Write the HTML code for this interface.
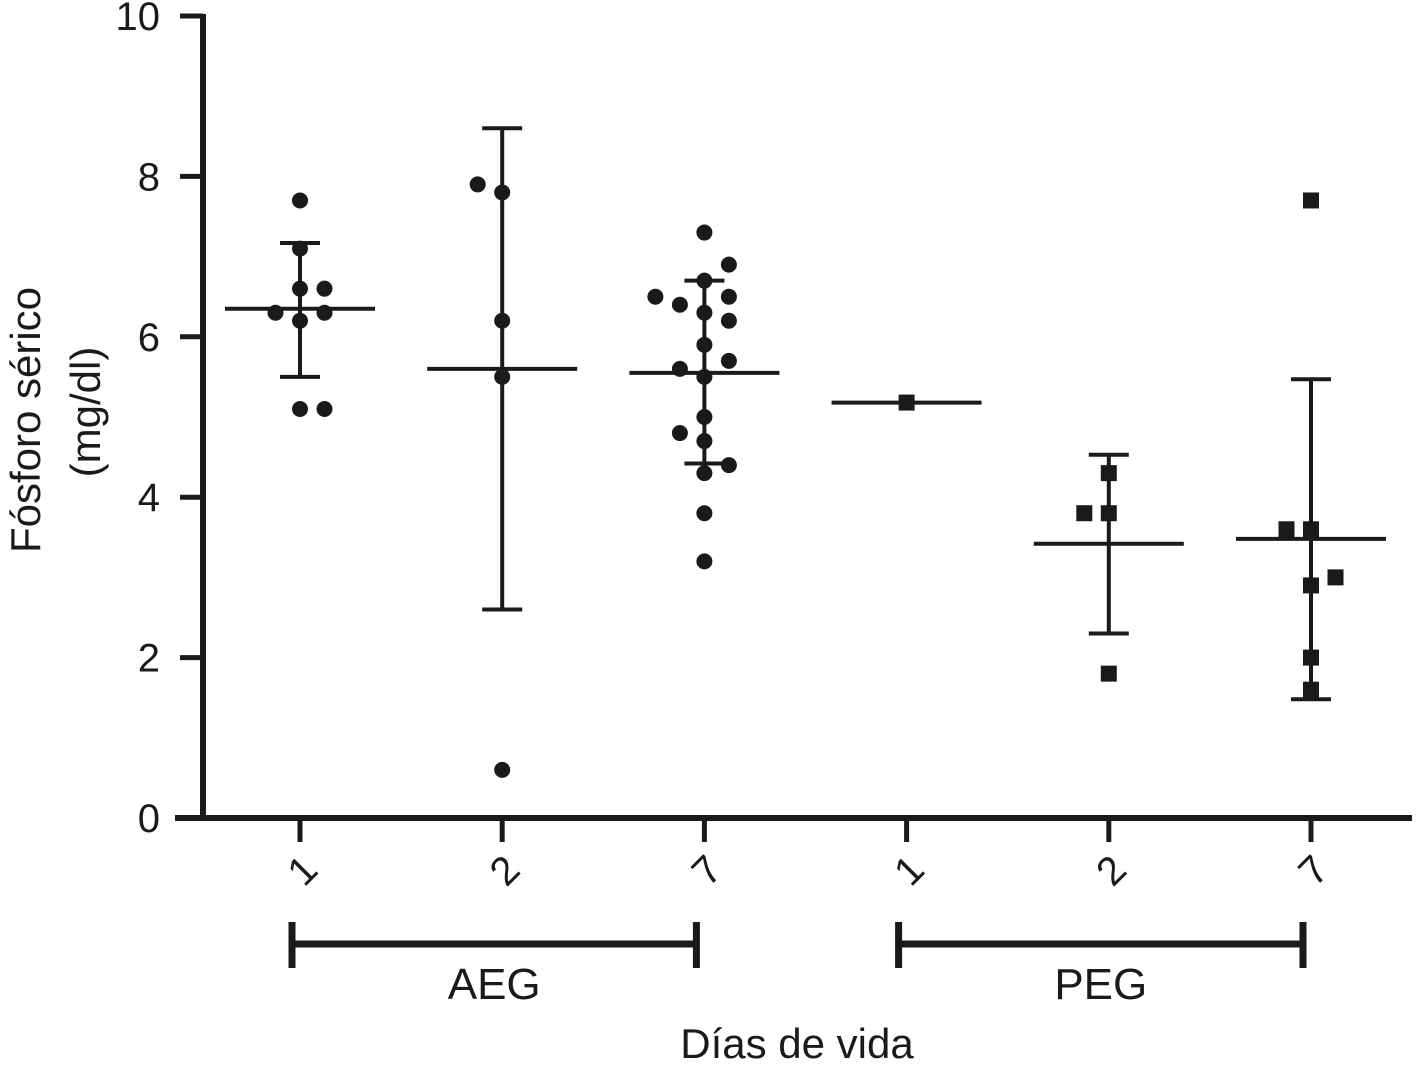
<!DOCTYPE html>
<html><head><meta charset="utf-8"><style>
body{margin:0;background:#fff}
svg{display:block;font-family:"Liberation Sans",sans-serif}
</style></head><body>
<svg id="chart" width="1417" height="1069" viewBox="0 0 1417 1069">
<g id="axes"></g>
<g id="marks"></g>
<text transform="translate(40,420) rotate(-90)" text-anchor="middle" font-size="42" fill="#1a1a1a">Fósforo sérico</text>
<text transform="translate(100,412) rotate(-90)" text-anchor="middle" font-size="42" fill="#1a1a1a">(mg/dl)</text>
<text x="797" y="1058" text-anchor="middle" font-size="42" fill="#1a1a1a">Días de vida</text>
</svg>
<script>
const categories=["1","2","7","1","2","7"];
const groups=["AEG","PEG"];
const shapes=["circle","circle","circle","square","square","square"];
const pointValues=[
 [7.7,7.1,6.6,6.6,6.3,6.3,6.2,5.1,5.1],
 [7.9,7.8,6.2,5.5,0.6],
 [7.3,6.9,6.7,6.5,6.4,6.5,6.3,6.2,5.9,5.7,5.6,5.5,5.0,4.8,4.7,4.4,4.3,3.8,3.2],
 [5.18],
 [4.3,3.8,3.8,1.8],
 [7.7,3.6,3.6,3.0,2.9,2.0,1.6]];
const pointOffsets=[
 [0,0,0,1,-1,1,0,0,1],
 [-1,0,0,0,0],
 [0,1,0,-2,-1,1,0,1,0,1,-1,0,0,-1,0,1,0,0,0],
 [0],
 [0,-1,0,0],
 [0,-1,0,1,0,0,0]];
const means=[6.35,5.6,5.55,5.18,3.42,3.48];
const upper=[7.17,8.6,6.7,null,4.53,5.47];
const lower=[5.5,2.6,4.42,null,2.3,1.48];
const yTicks=[0,2,4,6,8,10];

const NS="http://www.w3.org/2000/svg";
const y=v=>818-v*80.2;
const x=i=>300+i*202.2;
const C="#1a1a1a";
function mk(par,tag,a){const e=document.createElementNS(NS,tag);for(const k in a)e.setAttribute(k,a[k]);par.appendChild(e);return e;}
const ax=document.getElementById('axes'),mg=document.getElementById('marks');
let e=mk(ax,'line',{x1:203,y1:14,x2:203,y2:820,stroke:C,'stroke-width':6});

e=mk(ax,'line',{x1:175,y1:818,x2:1412,y2:818,stroke:C,'stroke-width':6});

yTicks.forEach(t=>{
 let l=mk(ax,'line',{x1:180,y1:y(t),x2:203,y2:y(t),stroke:C,'stroke-width':5});
 
 let tx=mk(ax,'text',{x:160,y:y(t)+14,'text-anchor':'end','font-size':40,fill:C});tx.textContent=t;
 
});
categories.forEach((c,i)=>{
 let l=mk(ax,'line',{x1:x(i),y1:818,x2:x(i),y2:842,stroke:C,'stroke-width':5});
 
 let tx=mk(ax,'text',{transform:`translate(${x(i)+12},${880}) rotate(-45)`,'text-anchor':'middle','font-size':40,fill:C});tx.textContent=c;
 
});
groups.forEach((g,k)=>{
 const x1=x(k*3)-8,x2=x(k*3+2)-8;
 let gg=mk(ax,'g',{});
 
 mk(gg,'line',{x1:x1,y1:944,x2:x2,y2:944,stroke:C,'stroke-width':7});
 mk(gg,'line',{x1:x1,y1:922,x2:x1,y2:968,stroke:C,'stroke-width':7});
 mk(gg,'line',{x1:x2,y1:922,x2:x2,y2:968,stroke:C,'stroke-width':7});
 let tx=mk(gg,'text',{x:(x1+x2)/2,y:999,'text-anchor':'middle','font-size':44,fill:C});tx.textContent=g;
});
categories.forEach((c,i)=>{
 const cx=x(i);
 let m=mk(mg,'line',{x1:cx-75,y1:y(means[i]),x2:cx+75,y2:y(means[i]),stroke:C,'stroke-width':4});
 
 if(upper[i]!=null){
  let b=mk(mg,'g',{stroke:C,'stroke-width':4});
  
  mk(b,'line',{x1:cx,y1:y(upper[i]),x2:cx,y2:y(lower[i])});
  mk(b,'line',{x1:cx-20,y1:y(upper[i]),x2:cx+20,y2:y(upper[i])});
  mk(b,'line',{x1:cx-20,y1:y(lower[i]),x2:cx+20,y2:y(lower[i])});
 }
 pointValues[i].forEach((v,j)=>{
  const px=cx+pointOffsets[i][j]*24.5;let p;
  if(shapes[i]==="circle")p=mk(mg,'circle',{cx:px,cy:y(v),r:8,fill:C});
  else p=mk(mg,'rect',{x:px-8,y:y(v)-8,width:16,height:16,fill:C});
  
 });
});
</script>
</body></html>
